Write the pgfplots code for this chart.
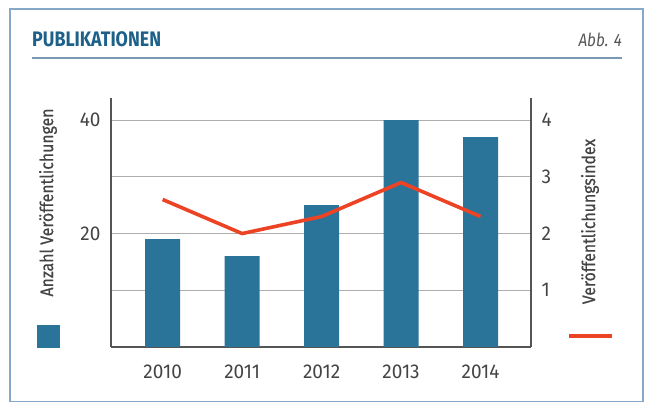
\documentclass[border=0pt]{standalone}
\usepackage{fontspec}
\setmainfont{Fira Sans}
\newfontfamily\condfont[FakeStretch=0.85]{Fira Sans}
\newfontfamily\labfont[FakeStretch=0.88,FakeBold=0.6]{Fira Sans}
\newfontfamily\tickfont[FakeStretch=0.95]{Fira Sans}
\usepackage{pgfplots}
\pgfplotsset{compat=1.18}
\definecolor{barblue}{HTML}{2B7499}
\definecolor{linered}{HTML}{EC4325}
\definecolor{framec}{HTML}{86A9C8}
\definecolor{titleblue}{HTML}{1D6189}
\definecolor{txt}{HTML}{444444}
\definecolor{gridc}{HTML}{AEAEAE}
\definecolor{axc}{HTML}{555555}
\begin{document}
\begin{tikzpicture}[x=1pt,y=1pt]
\useasboundingbox (0,0) rectangle (646,403);
\draw[framec, line width=1.6pt] (10,1.5) rectangle (643,394);
\draw[framec!90!black, line width=1.3pt] (32,345) -- (622,345);
\node[anchor=base west, inner sep=0pt, text=titleblue, font=\condfont\bfseries\fontsize{21}{23}\selectfont] at (32,356) {PUBLIKATIONEN};
\node[anchor=base east, inner sep=0pt, text=txt!90, font=\condfont\itshape\fontsize{18}{20}\selectfont] at (622,356) {Abb. 4};
\begin{axis}[
  at={(111pt,56pt)}, anchor=south west,
  scale only axis, width=420pt, height=249pt,
  xmin=-0.65, xmax=4.635, ymin=0, ymax=43.9,
  axis x line*=bottom, axis y line*=left,
  axis line style={axc, line width=1.3pt, -},
  xtick={0,1,2,3,4}, xticklabels={2010,2011,2012,2013,2014},
  ytick={10,20,30,40}, yticklabels={,20,,40},
  major tick length=0pt,
  ymajorgrids, grid style={gridc, line width=1pt},
  tick label style={text=txt, font=\tickfont\fontsize{20}{22}\selectfont},
  yticklabel style={anchor=east, xshift=-7pt},
  xticklabel style={anchor=north, yshift=-14pt},
  /pgf/number format/assume math mode=true,
  clip=false,
]
\addplot[ybar, bar width=35pt, fill=barblue, draw=none] coordinates {(0,19) (1,16) (2,25) (3,40) (4,37)};
\end{axis}
\begin{axis}[
  at={(111pt,56pt)}, anchor=south west,
  scale only axis, width=420pt, height=249pt,
  xmin=-0.65, xmax=4.635, ymin=0, ymax=4.39,
  axis x line=none, axis y line*=right,
  axis line style={axc, line width=1.3pt, -},
  ytick={1,2,3,4},
  major tick length=0pt,
  tick label style={text=txt, font=\tickfont\fontsize{20}{22}\selectfont},
  yticklabel style={anchor=west, xshift=7pt},
  /pgf/number format/assume math mode=true,
  clip=false,
]
\addplot[linered, line width=3.6pt, line join=round] coordinates {(0,2.6) (1,2.0) (2,2.3) (3,2.9) (4,2.3)};
\end{axis}
\fill[barblue] (37,55) rectangle (60,78);
\draw[linered, line width=3.6pt] (569,67) -- (612,67);
\node[rotate=90, text=txt, font=\labfont\fontsize{18}{20}\selectfont, inner sep=0pt] at (48,200.5) {Anzahl Veröffentlichungen};
\node[rotate=90, text=txt, font=\labfont\fontsize{18}{20}\selectfont, inner sep=0pt] at (590,181.5) {Veröffentlichungsindex};
\end{tikzpicture}
\end{document}
